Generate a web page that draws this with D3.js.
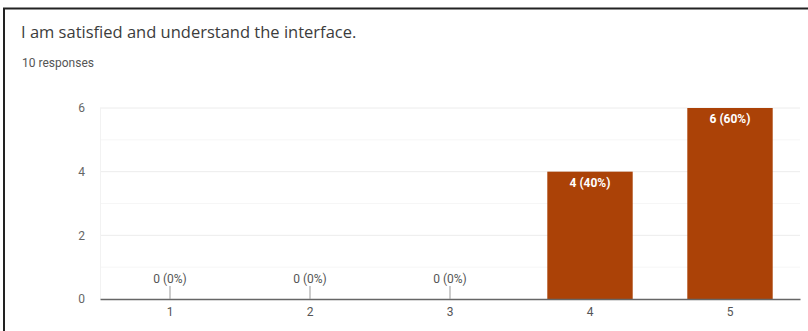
<!DOCTYPE html>
<html>
<head>
<meta charset="utf-8">
<script src="https://cdn.jsdelivr.net/npm/d3@7"></script>
<style>
  body { margin: 0; background: #fff; }
  svg { display: block; font-family: Roboto, Arial, sans-serif; }
</style>
</head>
<body>
<div id="chart"></div>
<script>
// Data
var categories = ["1", "2", "3", "4", "5"];
var counts = [0, 0, 0, 4, 6];
var percents = ["0%", "0%", "0%", "40%", "60%"];
var yTicks = [0, 2, 4, 6];
var yMinorTicks = [1, 3, 5];
var totalResponses = 10;

var svgWidth = 808;
var svgHeight = 331;

var chartMargin = { top: 108, right: 8, bottom: 32, left: 100 };
var chartWidth = svgWidth - chartMargin.left - chartMargin.right;
var chartHeight = svgHeight - chartMargin.top - chartMargin.bottom;

var svg = d3.select("#chart")
  .append("svg")
  .attr("width", svgWidth)
  .attr("height", svgHeight);

// frame lines (top and left only visible)
svg.append("line")
  .attr("x1", 3).attr("x2", svgWidth).attr("y1", 8.5).attr("y2", 8.5)
  .attr("stroke", "#222").attr("stroke-width", 2);
svg.append("line")
  .attr("x1", 4).attr("x2", 4).attr("y1", 8).attr("y2", svgHeight)
  .attr("stroke", "#222").attr("stroke-width", 2);

// title + subtitle
svg.append("text")
  .attr("x", 21).attr("y", 38)
  .attr("font-size", 16.5)
  .attr("font-family", "'Open Sans', Roboto, sans-serif")
  .attr("fill", "#3c3c3c")
  .text("I am satisfied and understand the interface.");

svg.append("text")
  .attr("x", 22).attr("y", 67)
  .attr("font-size", 12)
  .attr("fill", "#555")
  .text(totalResponses + " responses");

var chartGroup = svg.append("g")
  .attr("transform", `translate(${chartMargin.left}, ${chartMargin.top})`);

var xBandScale = d3.scaleBand()
  .domain(categories)
  .range([0, chartWidth])
  .paddingInner(0.39)
  .paddingOuter(0.195);

var yLinearScale = d3.scaleLinear()
  .domain([0, 6])
  .range([chartHeight, 0]);

// minor gridlines
chartGroup.selectAll(".minor")
  .data(yMinorTicks)
  .enter()
  .append("line")
  .attr("class", "minor")
  .attr("x1", 0).attr("x2", chartWidth)
  .attr("y1", d => yLinearScale(d)).attr("y2", d => yLinearScale(d))
  .attr("stroke", "#f6f6f6");

// major gridlines
chartGroup.selectAll(".major")
  .data(yTicks.filter(d => d > 0))
  .enter()
  .append("line")
  .attr("class", "major")
  .attr("x1", 0).attr("x2", chartWidth)
  .attr("y1", d => yLinearScale(d)).attr("y2", d => yLinearScale(d))
  .attr("stroke", "#ececec");

// faint left edge
chartGroup.append("line")
  .attr("x1", 0.5).attr("x2", 0.5)
  .attr("y1", 0).attr("y2", chartHeight)
  .attr("stroke", "#f2f2f2");

// y axis labels
var leftAxis = d3.axisLeft(yLinearScale)
  .tickValues(yTicks)
  .tickFormat(d3.format("d"))
  .tickSize(0)
  .tickPadding(15);

var yAxisGroup = chartGroup.append("g").call(leftAxis);
yAxisGroup.select(".domain").remove();
yAxisGroup.selectAll("text")
  .attr("font-size", 12)
  .attr("font-family", "Roboto, Arial, sans-serif")
  .attr("fill", "#666");

// bars
chartGroup.selectAll(".bar")
  .data(counts)
  .enter()
  .append("rect")
  .attr("class", "bar")
  .attr("x", (d, i) => xBandScale(categories[i]))
  .attr("y", d => yLinearScale(d))
  .attr("width", xBandScale.bandwidth())
  .attr("height", d => chartHeight - yLinearScale(d))
  .attr("fill", "#ab4207");

// x axis
var bottomAxis = d3.axisBottom(xBandScale)
  .tickSize(0)
  .tickPadding(8);

var xAxisGroup = chartGroup.append("g")
  .attr("transform", `translate(0, ${chartHeight})`)
  .call(bottomAxis);
xAxisGroup.select(".domain")
  .attr("stroke", "#666")
  .attr("stroke-width", 1.5);
xAxisGroup.selectAll("text")
  .attr("font-size", 12)
  .attr("font-family", "Roboto, Arial, sans-serif")
  .attr("fill", "#555");

// value labels
var mid = d => xBandScale.bandwidth() / 2;
chartGroup.selectAll(".zero-tick")
  .data(counts.map((d, i) => ({ v: d, i: i })).filter(d => d.v === 0))
  .enter()
  .append("line")
  .attr("class", "zero-tick")
  .attr("x1", d => xBandScale(categories[d.i]) + mid())
  .attr("x2", d => xBandScale(categories[d.i]) + mid())
  .attr("y1", chartHeight - 13)
  .attr("y2", chartHeight)
  .attr("stroke", "#999");

chartGroup.selectAll(".val-label")
  .data(counts)
  .enter()
  .append("text")
  .attr("class", "val-label")
  .attr("x", (d, i) => xBandScale(categories[i]) + mid())
  .attr("y", d => d === 0 ? chartHeight - 16 : yLinearScale(d) + 15)
  .attr("text-anchor", "middle")
  .attr("font-size", 12)
  .attr("font-weight", d => d === 0 ? "normal" : "bold")
  .attr("fill", d => d === 0 ? "#555" : "#fff")
  .text((d, i) => `${d} (${percents[i]})`);
</script>
</body>
</html>
